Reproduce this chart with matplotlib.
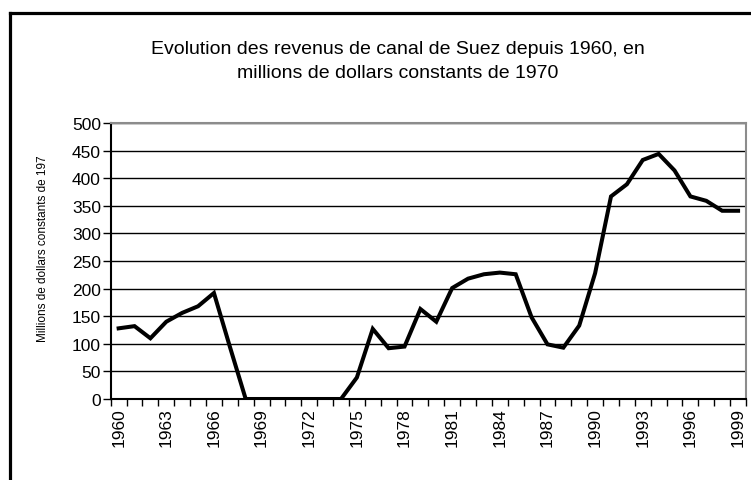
import matplotlib
matplotlib.use("Agg")
import matplotlib.pyplot as plt
from matplotlib.lines import Line2D

plt.rcParams['font.family'] = ['Liberation Sans', 'DejaVu Sans']

# données
years = list(range(1960, 2000))
revenus = [128, 132, 110, 140, 156, 168, 192, 95, 0, 0,
           0, 0, 0, 0, 0, 39, 127, 92, 95, 163,
           140, 201, 218, 226, 229, 226, 148, 99, 93, 133,
           228, 367, 389, 433, 444, 414, 367, 359, 341, 341]
yticks = list(range(0, 501, 50))
label_years = years[::3]

fig = plt.figure(figsize=(7.51, 4.81), dpi=100)
ax = fig.add_axes([110.7 / 751, 81 / 481, (746 - 110.7) / 751, 276 / 481])

idx = list(range(len(years)))
ax.plot(idx, revenus, color='black', lw=2.9, solid_joinstyle='miter', zorder=3)

ax.set_xlim(-0.5, len(years) - 0.5)
ax.set_ylim(0, 500)
ax.set_yticks(yticks)
ax.yaxis.grid(True, color='black', lw=1.0, zorder=1)
ax.set_axisbelow(True)
ax.tick_params(axis='y', direction='out', length=6, width=1, labelsize=12.5, pad=1)

# ticks entre les catégories, étiquettes tous les 3 ans
ax.set_xticks([i - 0.5 for i in range(len(years) + 1)], minor=True)
ax.set_xticks([years.index(y) for y in label_years])
ax.set_xticklabels([str(y) for y in label_years], rotation=90)
ax.tick_params(axis='x', which='major', length=0, labelsize=12.5, pad=6)
ax.tick_params(axis='x', which='minor', direction='out', length=5, width=1)

for s in ['top', 'right']:
    ax.spines[s].set_color('#8c8c8c')
    ax.spines[s].set_linewidth(1.5)
for s in ['left', 'bottom']:
    ax.spines[s].set_color('black')
    ax.spines[s].set_linewidth(1.5)

ax.set_ylabel('Millions de dollars constants de 197', fontsize=8.5)
ax.yaxis.set_label_coords(-0.097, 0.55)

fig.text(398 / 751, 1 - 61.5 / 481,
         'Evolution des revenus de canal de Suez depuis 1960, en\nmillions de dollars constants de 1970',
         ha='center', va='center', fontsize=14, linespacing=1.5)

# cadre
fig.add_artist(Line2D([9.5 / 751, 9.5 / 751], [0, 1 - 13.5 / 481], transform=fig.transFigure,
                      color='black', lw=2.3, solid_capstyle='projecting'))
fig.add_artist(Line2D([9.5 / 751, 1], [1 - 13.5 / 481, 1 - 13.5 / 481], transform=fig.transFigure,
                      color='black', lw=2.3, solid_capstyle='projecting'))

fig.savefig('out.png', dpi=100)
